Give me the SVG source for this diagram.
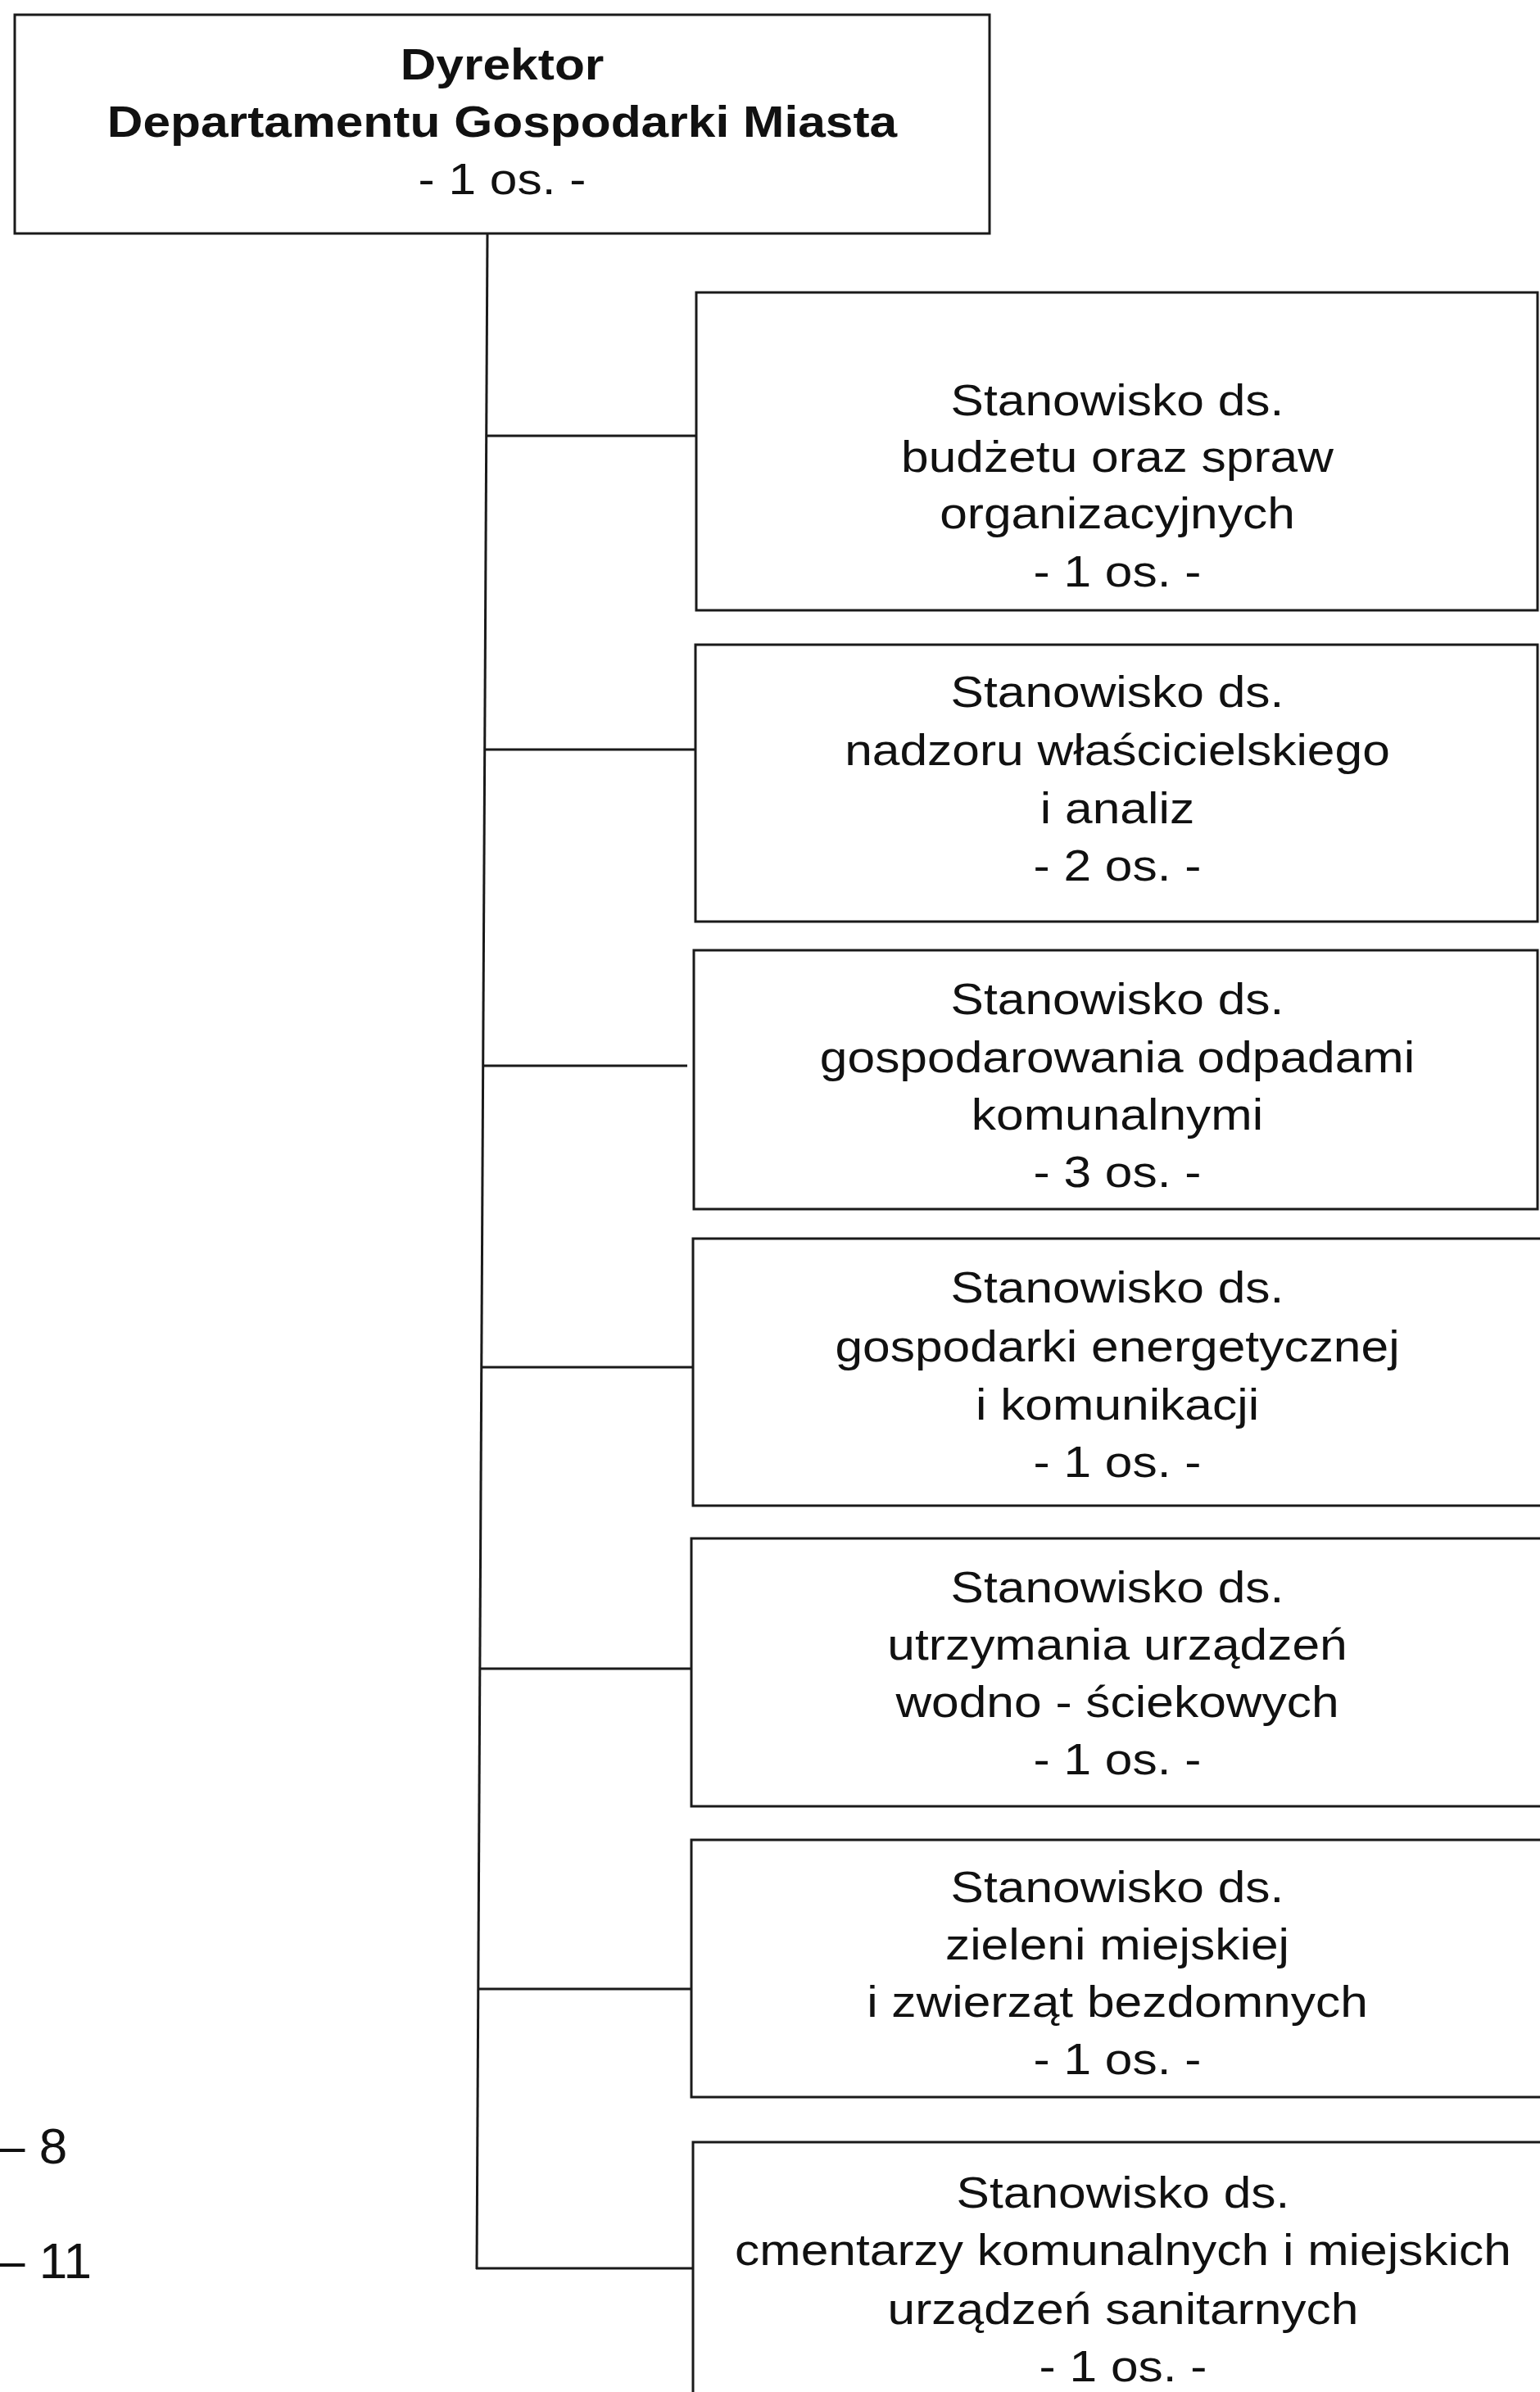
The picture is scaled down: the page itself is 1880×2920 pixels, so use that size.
<svg xmlns="http://www.w3.org/2000/svg" width="1880" height="2920" viewBox="0 0 1880 2920">
<style>
.box{fill:#fff;stroke:#1a1a1a;stroke-width:3}
.ln{fill:none;stroke:#1a1a1a;stroke-width:3}
.t{font-family:"Liberation Sans",Arial,sans-serif;font-size:54px;fill:#111;text-anchor:middle}
.b{font-weight:bold}
.side{font-family:"Liberation Sans",Arial,sans-serif;font-size:62px;fill:#111}
</style>
<rect width="1880" height="2920" fill="#fff"/>
<g id="connectors">
<line class="ln" x1="595" y1="285" x2="582" y2="2770"/>
<line class="ln" x1="594" y1="532" x2="850" y2="532"/>
<line class="ln" x1="591" y1="915" x2="849" y2="915"/>
<line class="ln" x1="590" y1="1301" x2="839" y2="1301"/>
<line class="ln" x1="588" y1="1669" x2="846" y2="1669"/>
<line class="ln" x1="587" y1="2037" x2="844" y2="2037"/>
<line class="ln" x1="584" y1="2428" x2="844" y2="2428"/>
<line class="ln" x1="581" y1="2769" x2="846" y2="2769"/>
</g>
<g id="dyrektor">
<rect class="box" x="18" y="18" width="1190" height="267"/>
<g transform="matrix(1.12 0 0 1 -73.56 0)">
<text class="t b" x="613" y="97">Dyrektor</text>
<text class="t b" x="613" y="167">Departamentu Gospodarki Miasta</text>
<text class="t" x="613" y="237">- 1 os. -</text>
</g>
</g>
<g id="box1">
<rect class="box" x="850" y="357" width="1027" height="388"/>
<g transform="matrix(1.12 0 0 1 -163.68 0)">
<text class="t" x="1364" y="507">Stanowisko ds.</text>
<text class="t" x="1364" y="576">budżetu oraz spraw</text>
<text class="t" x="1364" y="645">organizacyjnych</text>
<text class="t" x="1364" y="716">- 1 os. -</text>
</g>
</g>
<g id="box2">
<rect class="box" x="849" y="787" width="1028" height="338"/>
<g transform="matrix(1.12 0 0 1 -163.68 0)">
<text class="t" x="1364" y="863">Stanowisko ds.</text>
<text class="t" x="1364" y="934">nadzoru właścicielskiego</text>
<text class="t" x="1364" y="1005">i analiz</text>
<text class="t" x="1364" y="1075">- 2 os. -</text>
</g>
</g>
<g id="box3">
<rect class="box" x="847" y="1160" width="1030" height="316"/>
<g transform="matrix(1.12 0 0 1 -163.68 0)">
<text class="t" x="1364" y="1238">Stanowisko ds.</text>
<text class="t" x="1364" y="1309">gospodarowania odpadami</text>
<text class="t" x="1364" y="1379">komunalnymi</text>
<text class="t" x="1364" y="1449">- 3 os. -</text>
</g>
</g>
<g id="box4">
<rect class="box" x="846" y="1512" width="1040" height="326"/>
<g transform="matrix(1.12 0 0 1 -163.68 0)">
<text class="t" x="1364" y="1590">Stanowisko ds.</text>
<text class="t" x="1364" y="1662">gospodarki energetycznej</text>
<text class="t" x="1364" y="1733">i komunikacji</text>
<text class="t" x="1364" y="1803">- 1 os. -</text>
</g>
</g>
<g id="box5">
<rect class="box" x="844" y="1878" width="1042" height="327"/>
<g transform="matrix(1.12 0 0 1 -163.68 0)">
<text class="t" x="1364" y="1956">Stanowisko ds.</text>
<text class="t" x="1364" y="2026">utrzymania urządzeń</text>
<text class="t" x="1364" y="2096">wodno - ściekowych</text>
<text class="t" x="1364" y="2166">- 1 os. -</text>
</g>
</g>
<g id="box6">
<rect class="box" x="844" y="2246" width="1042" height="314"/>
<g transform="matrix(1.12 0 0 1 -163.68 0)">
<text class="t" x="1364" y="2322">Stanowisko ds.</text>
<text class="t" x="1364" y="2392">zieleni miejskiej</text>
<text class="t" x="1364" y="2462">i zwierząt bezdomnych</text>
<text class="t" x="1364" y="2532">- 1 os. -</text>
</g>
</g>
<g id="box7">
<rect class="box" x="846" y="2615" width="1040" height="330"/>
<g transform="matrix(1.12 0 0 1 -164.52 0)">
<text class="t" x="1371" y="2695">Stanowisko ds.</text>
<text class="t" x="1371" y="2765">cmentarzy komunalnych i miejskich</text>
<text class="t" x="1371" y="2837">urządzeń sanitarnych</text>
<text class="t" x="1371" y="2907">- 1 os. -</text>
</g>
</g>
<g id="side-labels">
<text class="side" x="-4" y="2641">– 8</text>
<text class="side" x="-4" y="2781">– 11</text>
</g>
</svg>
